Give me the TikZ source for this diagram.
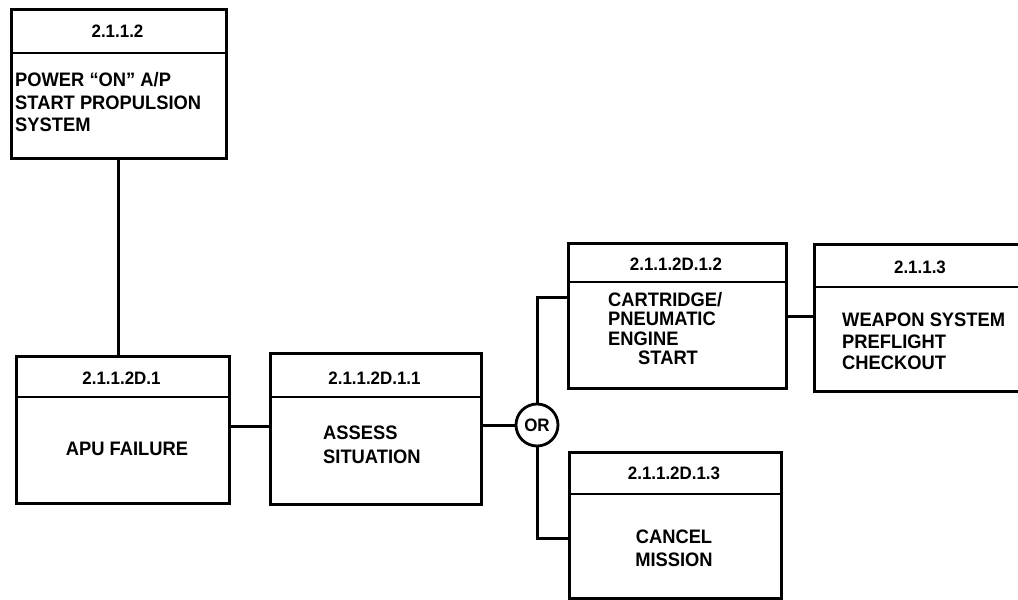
\documentclass[tikz,border=0pt]{standalone}
\usepackage{fontspec}
\setmainfont{Liberation Sans}[FakeStretch=0.94]
\begin{document}
\begin{tikzpicture}[x=1pt,y=-1pt,
  box/.style={draw, line width=2.8pt, inner sep=0pt, anchor=north west},
  sep/.style={line width=2.4pt},
  conn/.style={line width=3pt},
  hdrtext/.style={font=\fontsize{18}{18}\selectfont\bfseries, inner sep=0pt},
  bodytext/.style={font=\fontsize{19.5}{#1}\selectfont\bfseries, inner sep=0pt},
  ornode/.style={draw, circle, line width=2.8pt, minimum size=42pt, inner sep=0pt, font=\fontsize{18}{18}\selectfont\bfseries}
]
\useasboundingbox (0,0) rectangle (1018,600);
\begin{scope}
\clip (0,0) rectangle (1018,600);
% boxes
\node[box, minimum width=215pt, minimum height=149pt] (b1) at (10,8) {};
\node[box, minimum width=213pt, minimum height=147pt] (apu) at (15,355) {};
\node[box, minimum width=211pt, minimum height=151pt] (as) at (269,352) {};
\node[box, minimum width=218pt, minimum height=145pt] (ca) at (567,242) {};
\node[box, minimum width=230pt, minimum height=147pt] (we) at (813,243) {};
\node[box, minimum width=212pt, minimum height=146pt] (cm) at (568,451) {};
% header separators
\draw[sep] (b1.west |- 0,53) -- (b1.east |- 0,53);
\draw[sep] (apu.west |- 0,397) -- (apu.east |- 0,397);
\draw[sep] (as.west |- 0,397) -- (as.east |- 0,397);
\draw[sep] (ca.west |- 0,282) -- (ca.east |- 0,282);
\draw[sep] (we.west |- 0,287) -- (we.east |- 0,287);
\draw[sep] (cm.west |- 0,494) -- (cm.east |- 0,494);
\end{scope}
% header texts
\node[hdrtext] (b1h) at (117.5,31) {2.1.1.2};
\node[hdrtext] (apuh) at (121.5,378) {2.1.1.2D.1};
\node[hdrtext] (ash) at (374.5,378) {2.1.1.2D.1.1};
\node[hdrtext] (cah) at (676,264) {2.1.1.2D.1.2};
\node[hdrtext] (weh) at (920,267) {2.1.1.3};
\node[hdrtext] (cmh) at (674,473) {2.1.1.2D.1.3};
% body texts
\node[bodytext=22.5, align=left, anchor=west] (b1t) at (15,102.5) {POWER “ON” A/P\\START PROPULSION\\SYSTEM};
\node[bodytext=21, anchor=center] (apt) at (127,449) {APU FAILURE};
\node[bodytext=24, align=left, anchor=west] (ast) at (323,445) {ASSESS\\SITUATION};
\node[bodytext=19.2, align=left, anchor=west] (cat) at (608,328.5) {CARTRIDGE/\\PNEUMATIC\\ENGINE\\\hspace*{30pt}START};
\node[bodytext=21.5, align=left, anchor=west] (wet) at (842,341.5) {WEAPON SYSTEM\\PREFLIGHT\\CHECKOUT};
\node[bodytext=23, align=center, anchor=center] (cmt) at (674,548.5) {CANCEL\\MISSION};
% OR junction
\node[ornode] (or) at (537,425) {OR};
% connectors
\draw[conn] (b1.south) -- (b1.south |- apu.north);
\draw[conn] (apu.east |- 0,426) -- (as.west |- 0,426);
\draw[conn] (as.east |- or.west) -- (or.west);
\draw[conn] (or.north) |- (ca.west |- 0,297);
\draw[conn] (or.south) |- (cm.west |- 0,538);
\draw[conn] (ca.east |- 0,316) -- (we.west |- 0,316);
\end{tikzpicture}
\end{document}
